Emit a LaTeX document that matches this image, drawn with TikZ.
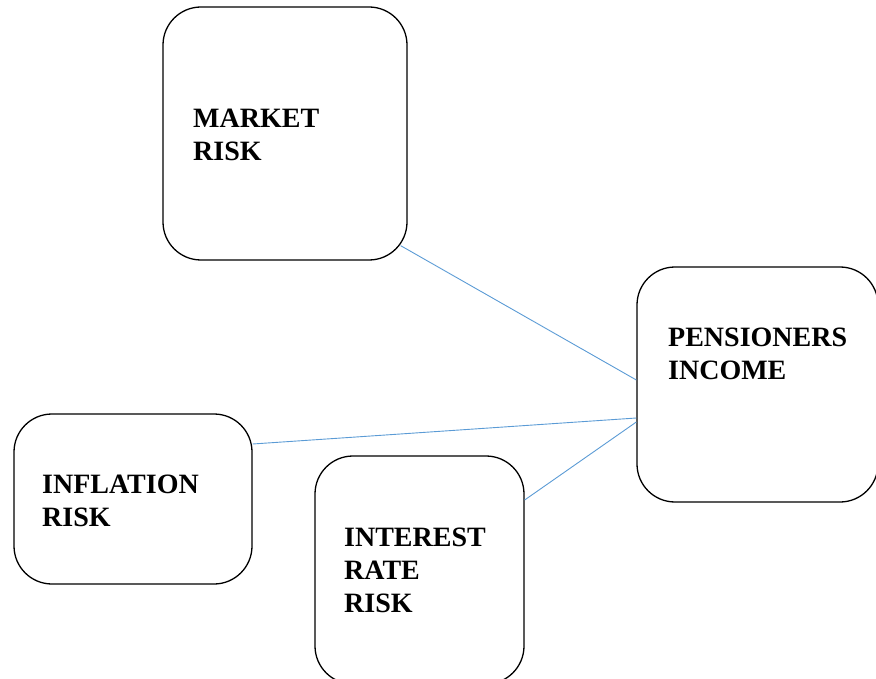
\documentclass[tikz,border=0pt]{standalone}
\usepackage{fontspec}
\setmainfont{Liberation Serif}
\usetikzlibrary{calc}
\definecolor{linkblue}{HTML}{5B9BD5}
\begin{document}
\begin{tikzpicture}[x=1pt,y=-1pt,
  riskbox/.style={draw=black,line width=1.3pt,rounded corners=38pt,rectangle,inner sep=0pt},
  boxlabel/.style={anchor=base west,inner sep=0pt,align=left,font=\fontsize{28}{33}\selectfont\bfseries},
  link/.style={draw=linkblue,line width=0.9pt}]
\useasboundingbox (0,0) rectangle (876,679);
\node[riskbox,minimum width=244pt,minimum height=253pt] (mkt) at (285,133.5) {};
\node[riskbox,minimum width=241pt,minimum height=235pt] (pen) at (757.5,384.5) {};
\node[riskbox,minimum width=238pt,minimum height=170pt] (inf) at (133,499) {};
\node[riskbox,minimum width=209pt,minimum height=228pt] (int) at (419.5,570) {};
\node[boxlabel] (mktt) at (193,161) {MARKET\\RISK};
\node[boxlabel] (pent) at (668,379) {PENSIONERS\\INCOME};
\node[boxlabel] (inft) at (42,526) {INFLATION\\RISK};
\node[boxlabel] (intt) at (344,612) {INTEREST\\RATE\\RISK};
\draw[link] ($(mkt.south east)+(-7,-15)$) -- ($(pen.west)+(0,-4.5)$);
\draw[link] ($(inf.east)+(0,-55)$) -- ($(pen.west)+(0,33.5)$);
\draw[link] ($(int.east)+(0,-70)$) -- ($(pen.west)+(0,37.5)$);
\end{tikzpicture}
\end{document}
